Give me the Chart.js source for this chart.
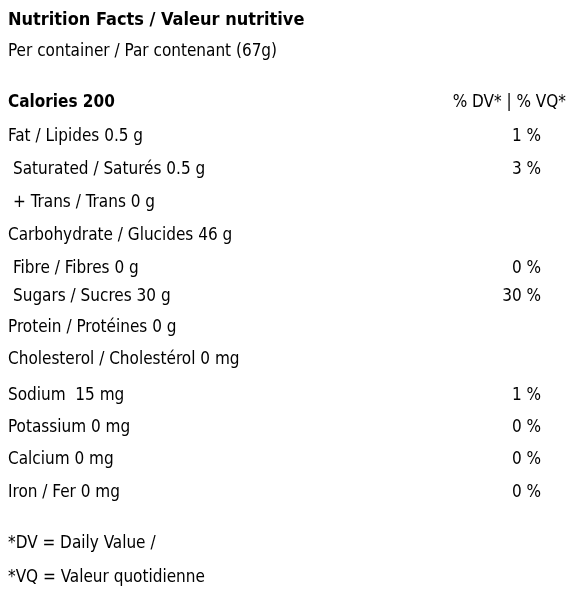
<!DOCTYPE html>
<html><head><meta charset="utf-8">
<script src="https://cdn.jsdelivr.net/npm/chart.js@4"></script>
<style>html,body{margin:0;padding:0;background:#fff}#w{width:580px;height:597px}</style>
</head><body><div id="w"><canvas id="c"></canvas></div>
<script>
const labels = ["Nutrition Facts / Valeur nutritive","Per container / Par contenant (67g)","Calories 200","Fat / Lipides 0.5 g","Saturated / Saturés 0.5 g","+ Trans / Trans 0 g","Carbohydrate / Glucides 46 g","Fibre / Fibres 0 g","Sugars / Sucres 30 g","Protein / Protéines 0 g","Cholesterol / Cholestérol 0 mg","Sodium  15 mg","Potassium 0 mg","Calcium 0 mg","Iron / Fer 0 mg","*DV = Daily Value /","*VQ = Valeur quotidienne"];
const dv = ["","","% DV* | % VQ*","1 %","3 %","","","0 %","30 %","","","1 %","0 %","0 %","0 %","",""];
const slots = [0.38,1.37,2.95,4,5.02,6.04,7.06,8.08,8.95,9.9,10.9,12,13,14,15,16.6,17.65];
const weights = ["bold","normal","bold","normal","normal","normal","normal","normal","normal","normal","normal","normal","normal","normal","normal","normal","normal"];
const indent = [0,0,0,0,1,1,0,1,1,0,0,0,0,0,0,0,0];
const FONT = '"Liberation Sans Narrow","DejaVu Sans Condensed","Roboto",sans-serif';
const textPlugin = {id:'txt', afterDraw(ch){
  const ctx=ch.ctx, y=ch.scales.y; ctx.save(); ctx.fillStyle='#000'; ctx.textBaseline='middle';
  labels.forEach((l,i)=>{
    const py=y.getPixelForValue(slots[i]);
    ctx.font=weights[i]+' '+(i===0?18:17)+'px '+FONT; ctx.textAlign='left';
    ctx.fillText(l, 8+indent[i]*5, py);
    if(dv[i]){ ctx.font='normal 17px '+FONT; ctx.textAlign='right';
      ctx.fillText(dv[i], i===2?566:541, py); }
  }); ctx.restore();
}};
new Chart(document.getElementById('c'),{type:'scatter',
 data:{datasets:[{data:slots.map(s=>({x:0,y:s})),pointRadius:0}]},
 options:{responsive:true,maintainAspectRatio:false,animation:false,layout:{padding:0},
  plugins:{legend:{display:false},tooltip:{enabled:false}},
  scales:{x:{display:false,min:0,max:1},y:{display:false,reverse:true,min:-0.24,max:18.24}}},
 plugins:[textPlugin]});
</script></body></html>
